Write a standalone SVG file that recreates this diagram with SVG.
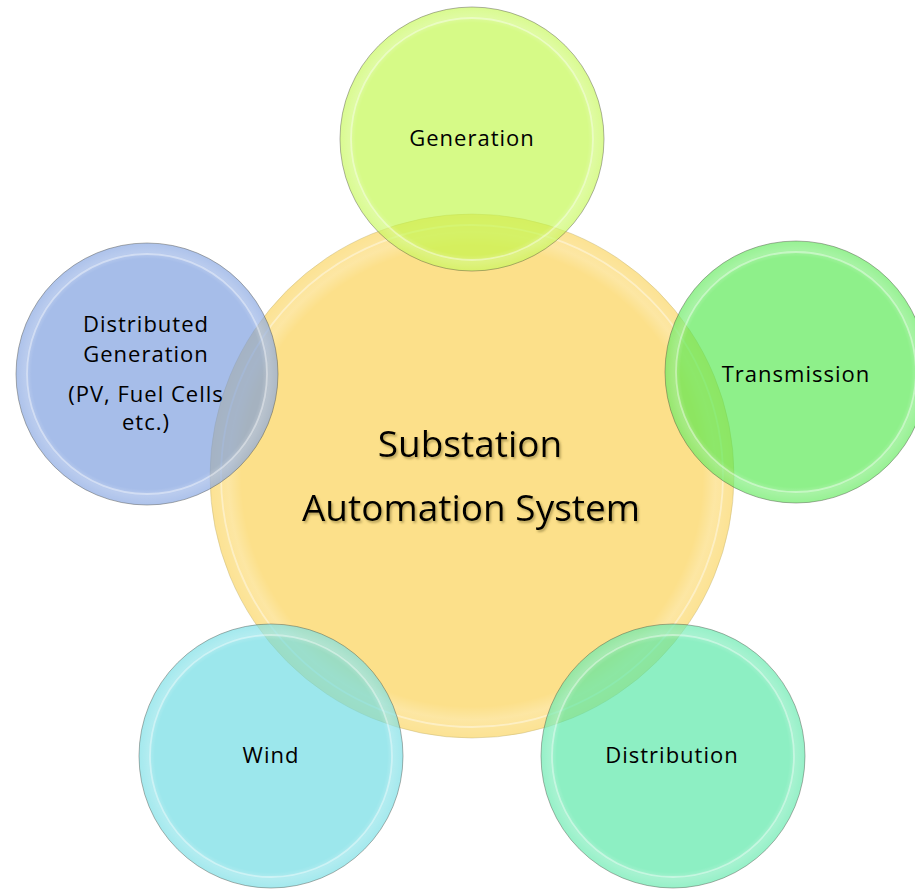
<svg xmlns="http://www.w3.org/2000/svg" width="915" height="890" viewBox="0 0 915 890">
<defs>
<filter id="tshadow" x="-10%" y="-30%" width="120%" height="160%">
<feDropShadow dx="1.5" dy="2" stdDeviation="1" flood-color="#7a6a30" flood-opacity="0.55"/>
</filter>
<radialGradient id="gloss" cx="0.5" cy="0.5" r="0.5">
<stop offset="0.88" stop-color="#ffffff" stop-opacity="0"/>
<stop offset="0.93" stop-color="#ffffff" stop-opacity="0.22"/>
<stop offset="1" stop-color="#ffffff" stop-opacity="0.08"/>
</radialGradient>
</defs>
<style>
.disc{stroke:#3a3a30;stroke-opacity:0.4;stroke-width:1;fill-opacity:0.65}
.gl{fill:url(#gloss)}
.rim{fill:none;stroke:#ffffff;stroke-opacity:0.4;stroke-width:1.8}
.lbl{font-family:"Open Sans","Liberation Sans",sans-serif;font-size:22px;fill:#000;text-anchor:middle;letter-spacing:1px}
.big{font-family:"Open Sans","Liberation Sans",sans-serif;font-size:37px;fill:#000;text-anchor:middle}
</style>
<rect width="915" height="890" fill="#ffffff"/>
<g id="connectors"/>
<g id="center">
<circle cx="472" cy="476" r="262" fill="#fce08a" stroke="#b0a060" stroke-opacity="0.35" stroke-width="1"/>
<circle cx="472" cy="476" r="262" class="gl"/>
<circle cx="472" cy="476" r="251" class="rim"/>
<g filter="url(#tshadow)">
<text class="big" x="470" y="457">Substation</text>
<text class="big" x="471" y="521">Automation System</text>
</g>
</g>
<g id="generation">
<circle cx="472" cy="139" r="132" class="disc" fill="#c0f746"/>
<circle cx="472" cy="139" r="132" class="gl"/>
<circle cx="472" cy="139" r="121" class="rim"/>
<text class="lbl" x="472" y="146">Generation</text>
</g>
<g id="transmission">
<circle cx="796" cy="372" r="131" class="disc" fill="#51e84b"/>
<circle cx="796" cy="372" r="131" class="gl"/>
<circle cx="796" cy="372" r="120" class="rim"/>
<text class="lbl" x="796" y="382">Transmission</text>
</g>
<g id="distributed-generation">
<circle cx="147" cy="374" r="131" class="disc" fill="#7699dd"/>
<circle cx="147" cy="374" r="131" class="gl"/>
<circle cx="147" cy="374" r="120" class="rim"/>
<text class="lbl" x="146" y="332">Distributed</text>
<text class="lbl" x="146" y="362">Generation</text>
<text class="lbl" x="146" y="402">(PV, Fuel Cells</text>
<text class="lbl" x="146" y="430">etc.)</text>
</g>
<g id="wind">
<circle cx="271" cy="756" r="132" class="disc" fill="#67dae2"/>
<circle cx="271" cy="756" r="132" class="gl"/>
<circle cx="271" cy="756" r="121" class="rim"/>
<text class="lbl" x="271" y="763">Wind</text>
</g>
<g id="distribution">
<circle cx="673" cy="756" r="132" class="disc" fill="#50e6a3"/>
<circle cx="673" cy="756" r="132" class="gl"/>
<circle cx="673" cy="756" r="121" class="rim"/>
<text class="lbl" x="672" y="763">Distribution</text>
</g>
</svg>
